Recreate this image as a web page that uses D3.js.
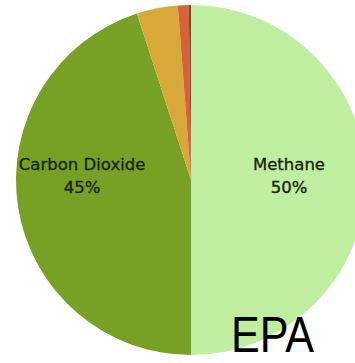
<!DOCTYPE html>
<html>
<head>
<meta charset="utf-8">
<script src="https://cdn.jsdelivr.net/npm/d3@7"></script>
<style>
  body { margin: 0; background: #fff; }
</style>
</head>
<body>
<div id="chart"></div>
<script>
// data
var gases = ["Methane", "Carbon Dioxide", "Nitrous Oxide", "Other", "Trace"];
var shares = [50, 45, 3.8, 1, 0.2];
var showLabel = [true, true, false, false, false];
var colors = ["#c0eea0", "#78a024", "#d8a83a", "#d6623a", "#8a4030"];

var width = 355, height = 363;
var cx = 191, cy = 180, radius = 175;

var svg = d3.select("#chart")
    .append("svg")
    .attr("width", width)
    .attr("height", height);

var g = svg.append("g")
    .attr("transform", "translate(" + cx + "," + cy + ")");

var pie = d3.pie().sort(null).value(function (d) { return d; });
var arcs = pie(shares);

var arc = d3.arc().innerRadius(0).outerRadius(radius);

g.selectAll("path")
    .data(arcs)
    .enter()
    .append("path")
    .attr("d", arc)
    .attr("fill", function (d, i) { return colors[i]; });

// labels: x from the slice centroid, both rows sit near the middle line
var labelR = [0.56, 0.63];

var labels = g.selectAll("text.lbl")
    .data(arcs.filter(function (d, i) { return showLabel[i]; }))
    .enter()
    .append("text")
    .attr("class", "lbl")
    .attr("text-anchor", "middle")
    .attr("font-family", "DejaVu Sans, Verdana, sans-serif")
    .attr("font-size", 16.5)
    .attr("fill", "#17220c")
    .attr("stroke", "#17220c")
    .attr("stroke-width", 0.3)
    .attr("transform", function (d) {
        var r = radius * labelR[d.index];
        var c = d3.arc().innerRadius(r).outerRadius(r).centroid(d);
        return "translate(" + c[0] + ",0)";
    });

labels.append("tspan")
    .attr("x", 0)
    .attr("y", -10)
    .text(function (d) { return gases[d.index]; });

labels.append("tspan")
    .attr("x", 0)
    .attr("y", 13)
    .text(function (d) { return d3.format(".0f")(d.value) + "%"; });

// source text
svg.append("text")
    .attr("x", 231)
    .attr("y", 352)
    .attr("font-family", "Liberation Sans, Arial, sans-serif")
    .attr("font-size", 50)
    .attr("textLength", 83)
    .attr("lengthAdjust", "spacingAndGlyphs")
    .attr("fill", "#000")
    .text("EPA");
</script>
</body>
</html>
